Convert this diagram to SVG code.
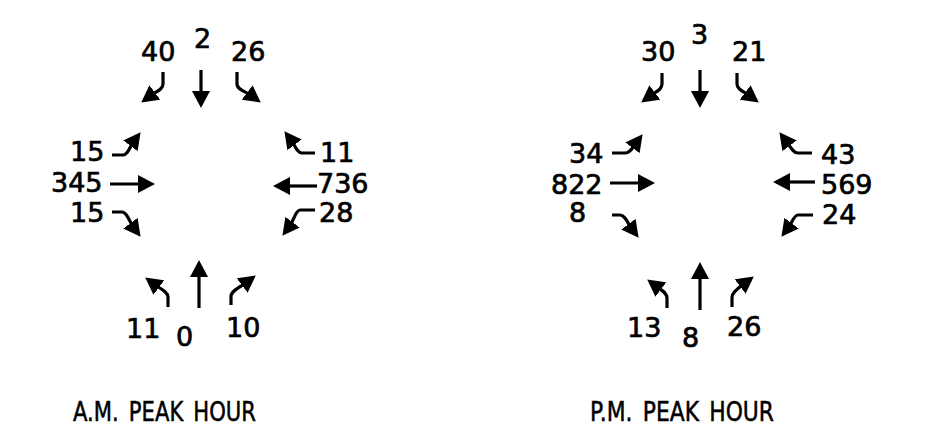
<svg xmlns="http://www.w3.org/2000/svg" width="934" height="443" viewBox="0 0 934 443">
  <style>
    .lbl { font-family: "DejaVu Sans", "Liberation Sans", sans-serif; font-size: 27px; fill: #000; stroke: #000; stroke-width: 0.7; }
    .ttl { font-family: "DejaVu Sans", "Liberation Sans", sans-serif; font-size: 26px; fill: #000; stroke: #000; stroke-width: 0.5; }
    .arr { fill: none; stroke: #000; stroke-width: 3.2; marker-end: url(#ah); }
  </style>
  <defs>
    <marker id="ah" viewBox="0 0 17 18" markerWidth="17" markerHeight="18" refX="5" refY="9" orient="auto" markerUnits="userSpaceOnUse">
      <path d="M0,0 L17,9 L0,18 z" fill="#000"/>
    </marker>
  </defs>
  <rect width="934" height="443" fill="#fff"/>

  <g id="connectors">
    <!-- A.M. -->
    <path class="arr" d="M163,72 V84 C163,90 155.6,91.8 150.8,95.4"/>
    <path class="arr" d="M201,70 V96"/>
    <path class="arr" d="M237,72 V84 C237,90 246.4,91.8 251.2,95.4"/>
    <path class="arr" d="M112,155 H123 C128,155 129.8,146.6 133.4,141.8"/>
    <path class="arr" d="M110,184 H143"/>
    <path class="arr" d="M112,212 H122 C127,212 129.8,222.4 133.4,227.2"/>
    <path class="arr" d="M315,153 H302 C297,153 295.2,145.6 291.6,140.8"/>
    <path class="arr" d="M317,186 H285"/>
    <path class="arr" d="M315,210 H300 C296,210 293.2,221.4 289.6,226.2"/>
    <path class="arr" d="M168,307 V297 C168,292 159.6,288.2 154.8,284.6"/>
    <path class="arr" d="M199,308 V272"/>
    <path class="arr" d="M231,305 V296 C231,291 241.4,286.2 246.2,282.6"/>
    <!-- P.M. -->
    <path class="arr" d="M662,73 V84 C662,90 655.6,91.8 650.8,95.4"/>
    <path class="arr" d="M700,70 V96"/>
    <path class="arr" d="M737,73 V84 C737,90 744.4,91.8 749.2,95.4"/>
    <path class="arr" d="M612,153 H625 C630,153 631.8,148.6 635.4,143.8"/>
    <path class="arr" d="M610,183 H643"/>
    <path class="arr" d="M612,215 H620 C625,215 627.8,223.4 631.4,228.2"/>
    <path class="arr" d="M812,153 H798 C793,153 790.2,146.6 786.6,141.8"/>
    <path class="arr" d="M815,182 H785"/>
    <path class="arr" d="M813,215 H798 C794,215 792.2,222.4 788.6,227.2"/>
    <path class="arr" d="M667,308 V298 C667,293 661.6,290.2 656.8,286.6"/>
    <path class="arr" d="M700,310 V274"/>
    <path class="arr" d="M732,307 V297 C732,292 739.4,287.2 744.2,283.6"/>
  </g>

  <g id="am-sb">
    <text class="lbl" x="141" y="61">40</text>
    <text class="lbl" x="194" y="48">2</text>
    <text class="lbl" x="231" y="61">26</text>
  </g>
  <g id="am-eb">
    <text class="lbl" x="70" y="161">15</text>
    <text class="lbl" x="51" y="192">345</text>
    <text class="lbl" x="70" y="222">15</text>
  </g>
  <g id="am-wb">
    <text class="lbl" x="320" y="162">11</text>
    <text class="lbl" x="317" y="193">736</text>
    <text class="lbl" x="319" y="222">28</text>
  </g>
  <g id="am-nb">
    <text class="lbl" x="126" y="338">11</text>
    <text class="lbl" x="176" y="346">0</text>
    <text class="lbl" x="226" y="337">10</text>
  </g>
  <g id="am-title">
    <text class="ttl" x="73" y="421" textLength="183" lengthAdjust="spacingAndGlyphs" word-spacing="4">A.M. PEAK HOUR</text>
  </g>

  <g id="pm-sb">
    <text class="lbl" x="641" y="61">30</text>
    <text class="lbl" x="691" y="44">3</text>
    <text class="lbl" x="732" y="61">21</text>
  </g>
  <g id="pm-eb">
    <text class="lbl" x="569" y="163">34</text>
    <text class="lbl" x="551" y="194">822</text>
    <text class="lbl" x="569" y="222">8</text>
  </g>
  <g id="pm-wb">
    <text class="lbl" x="821" y="164">43</text>
    <text class="lbl" x="821" y="194">569</text>
    <text class="lbl" x="822" y="224">24</text>
  </g>
  <g id="pm-nb">
    <text class="lbl" x="627" y="337">13</text>
    <text class="lbl" x="682" y="347">8</text>
    <text class="lbl" x="727" y="336">26</text>
  </g>
  <g id="pm-title">
    <text class="ttl" x="590" y="421" textLength="184" lengthAdjust="spacingAndGlyphs" word-spacing="4">P.M. PEAK HOUR</text>
  </g>
</svg>
